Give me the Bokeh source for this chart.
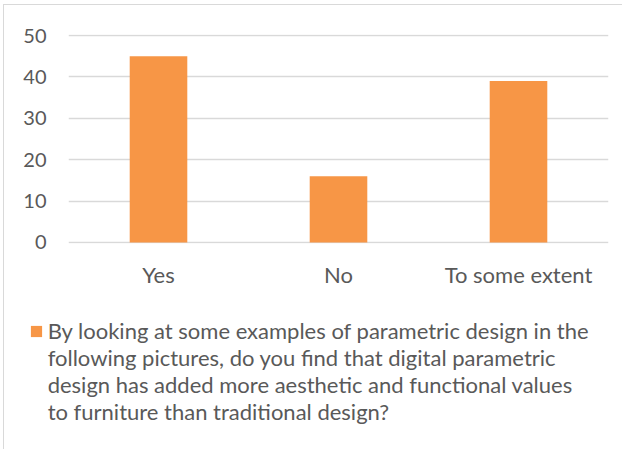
from bokeh.plotting import figure
from bokeh.layouts import column
from bokeh.models import ColumnDataSource, FactorRange, Range1d, FixedTicker, Legend, LegendItem
from bokeh.embed import file_html
from bokeh.resources import INLINE

categories = ["Yes", "No", "To some extent"]
values = [45, 16, 39]
series_name = ("By looking at some examples of parametric design in the\n"
               "following pictures, do you find that digital parametric\n"
               "design has added more aesthetic and functional values\n"
               "to furniture than traditional design?")
y_ticks = [0, 10, 20, 30, 40, 50]

TEXT = "#595959"
FONT = "Lato"
BAR = "#F79646"

src = ColumnDataSource(dict(cat=categories, val=values))

p = figure(x_range=FactorRange(*categories, range_padding=0),
           y_range=Range1d(-0.25, 50.25),
           frame_width=540, frame_height=209,
           min_border_left=64, min_border_top=29, min_border_right=14, min_border_bottom=60,
           output_backend="svg", toolbar_location=None)

r = p.vbar(x="cat", top="val", width=0.32, source=src, color=BAR, line_color=None)

p.outline_line_color = None
p.xgrid.visible = False
p.ygrid.grid_line_color = "#D9D9D9"
p.ygrid.grid_line_width = 1.3

p.yaxis.ticker = FixedTicker(ticks=y_ticks)
for ax in (p.xaxis[0], p.yaxis[0]):
    ax.axis_line_color = None
    ax.major_tick_line_color = None
    ax.minor_tick_line_color = None
    ax.major_label_text_font = FONT
    ax.major_label_text_color = TEXT
p.yaxis.major_label_text_font_size = "20px"
p.xaxis.major_label_text_font_size = "22px"
p.yaxis.major_label_standoff = 16
p.xaxis.major_label_standoff = 11

# legend panel: same series, drawn outside its visible value window so only the key shows
p2 = figure(x_range=FactorRange(*categories, range_padding=0),
            y_range=Range1d(1000, 1001),
            frame_width=577, frame_height=148,
            min_border_left=32, min_border_top=0, min_border_right=0, min_border_bottom=0,
            x_axis_location=None, y_axis_location=None,
            output_backend="svg", toolbar_location=None)
p2.grid.visible = False
p2.outline_line_color = None
r2 = p2.vbar(x="cat", top="val", width=0.32, source=src, color=BAR, line_color=None)
r_blank = p2.vbar(x="cat", top="val", width=0.32, source=src, fill_alpha=0, line_alpha=0)

lines = series_name.split("\n")
items = [LegendItem(label=lines[0], renderers=[r2])]
items += [LegendItem(label=t, renderers=[r_blank]) for t in lines[1:]]

legend = Legend(items=items,
                location="top_left", orientation="vertical",
                label_text_font=FONT, label_text_font_size="22px", label_text_color=TEXT,
                label_height=26, label_text_line_height=1.0,
                glyph_width=14, glyph_height=14, label_standoff=5,
                padding=0, margin=14, spacing=0,
                border_line_color=None, background_fill_alpha=0)
p2.add_layout(legend)

layout = column(p, p2, spacing=0)
layout.styles = {"border-left": "1px solid #d9d9d9", "border-top": "1px solid #d9d9d9",
                 "margin-left": "3px", "margin-top": "4px"}

open("out.html", "w").write(file_html(layout, INLINE))
